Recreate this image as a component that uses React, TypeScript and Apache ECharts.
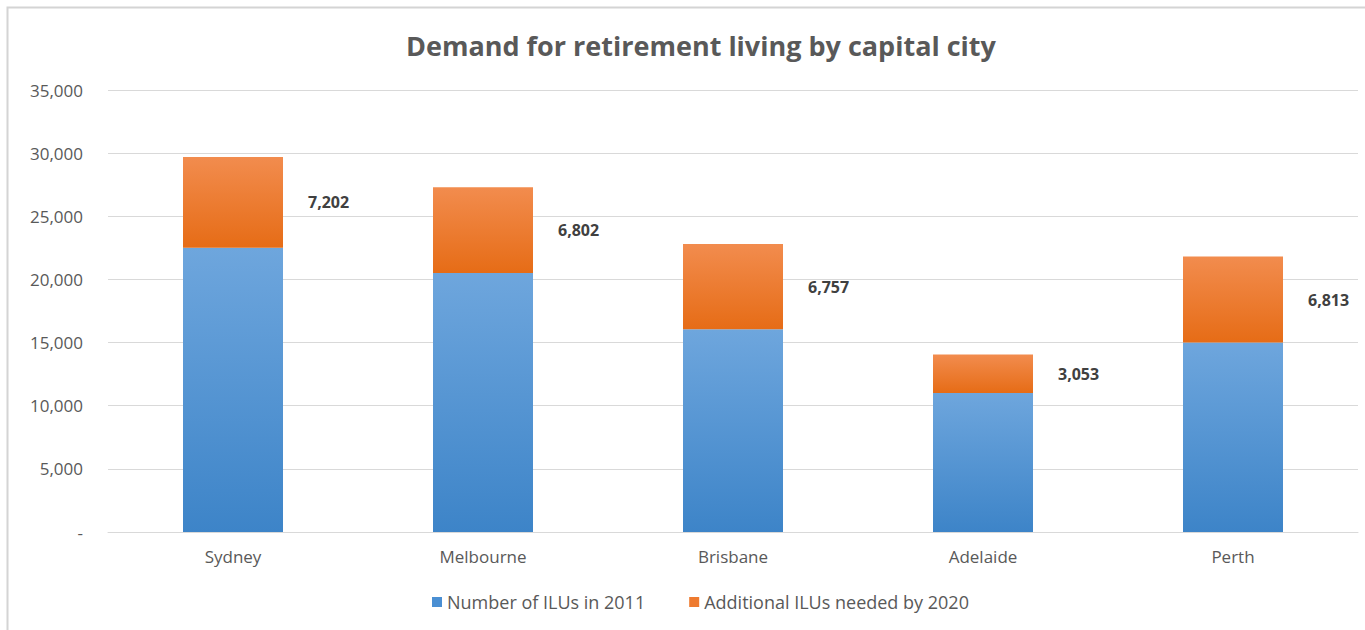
import React, { useEffect, useRef } from "react";
import * as echarts from "echarts";

const cities = ["Sydney", "Melbourne", "Brisbane", "Adelaide", "Perth"];
const ilus2011 = [22500, 20500, 16050, 11000, 15000];
const additional2020 = [7202, 6802, 6757, 3053, 6813];
const yTicks = [0, 5000, 10000, 15000, 20000, 25000, 30000, 35000];

const FONT = "'Open Sans', sans-serif";
const TXT = "#595959";

function grad(top: string, bottom: string) {
  return new echarts.graphic.LinearGradient(0, 0, 0, 1, [
    { offset: 0, color: top },
    { offset: 1, color: bottom },
  ]);
}

export default function App() {
  const ref = useRef<HTMLDivElement>(null);
  useEffect(() => {
    if (!ref.current) return;
    const chart = echarts.init(ref.current, null, { renderer: "svg" });
    chart.setOption({
      animation: false,
      backgroundColor: "#ffffff",
      title: {
        text: "Demand for retirement living by capital city",
        left: 401,
        top: 27,
        textStyle: { fontFamily: FONT, fontWeight: "bold", fontSize: 27, color: TXT },
      },
      graphic: [
        {
          type: "rect",
          shape: { x: 7.5, y: 7.5, width: 1400, height: 700 },
          style: { fill: "none", stroke: "#d4d4d4", lineWidth: 2 },
          silent: true,
        },
      ],
      legend: {
        bottom: 14,
        left: 427,
        icon: "rect",
        itemWidth: 10,
        itemHeight: 10,
        itemGap: 44,
        textStyle: { fontFamily: FONT, fontSize: 18, color: TXT },
        data: [
          { name: "Number of ILUs in 2011", itemStyle: { color: "#4a8fd3" } },
          { name: "Additional ILUs needed by 2020", itemStyle: { color: "#ee7a2f" } },
        ],
      },
      grid: { left: 108, right: 7, top: 90, bottom: 98 },
      xAxis: {
        type: "category",
        data: cities,
        axisLine: { lineStyle: { color: "#d9d9d9" } },
        axisTick: { show: false },
        axisLabel: { fontFamily: FONT, fontSize: 17, color: TXT, margin: 16 },
      },
      yAxis: {
        type: "value",
        min: yTicks[0],
        max: yTicks[yTicks.length - 1],
        interval: 5000,
        axisLine: { show: false },
        axisTick: { show: false },
        splitLine: { lineStyle: { color: "#d9d9d9" } },
        axisLabel: {
          fontFamily: FONT,
          fontSize: 17,
          color: TXT,
          margin: 25,
          formatter: (v: number) => (v === 0 ? "-" : v.toLocaleString("en-US")),
        },
      },
      series: [
        {
          name: "Number of ILUs in 2011",
          type: "bar",
          stack: "total",
          barWidth: "40%",
          data: ilus2011,
          itemStyle: { color: grad("#6ea6dd", "#3d84c8") },
        },
        {
          name: "Additional ILUs needed by 2020",
          type: "bar",
          stack: "total",
          barWidth: "40%",
          data: additional2020,
          itemStyle: { color: grad("#f28c4e", "#e66c16") },
          label: {
            show: true,
            position: "right",
            distance: 25,
            fontFamily: FONT,
            fontWeight: "bold",
            fontSize: 16,
            color: "#404040",
            formatter: (p: any) => Number(p.value).toLocaleString("en-US"),
          },
        },
      ],
    });
    return () => chart.dispose();
  }, []);
  return (
    <div
      ref={ref}
      style={{ position: "fixed", left: 0, top: 0, width: 1365, height: 630 }}
    />
  );
}
